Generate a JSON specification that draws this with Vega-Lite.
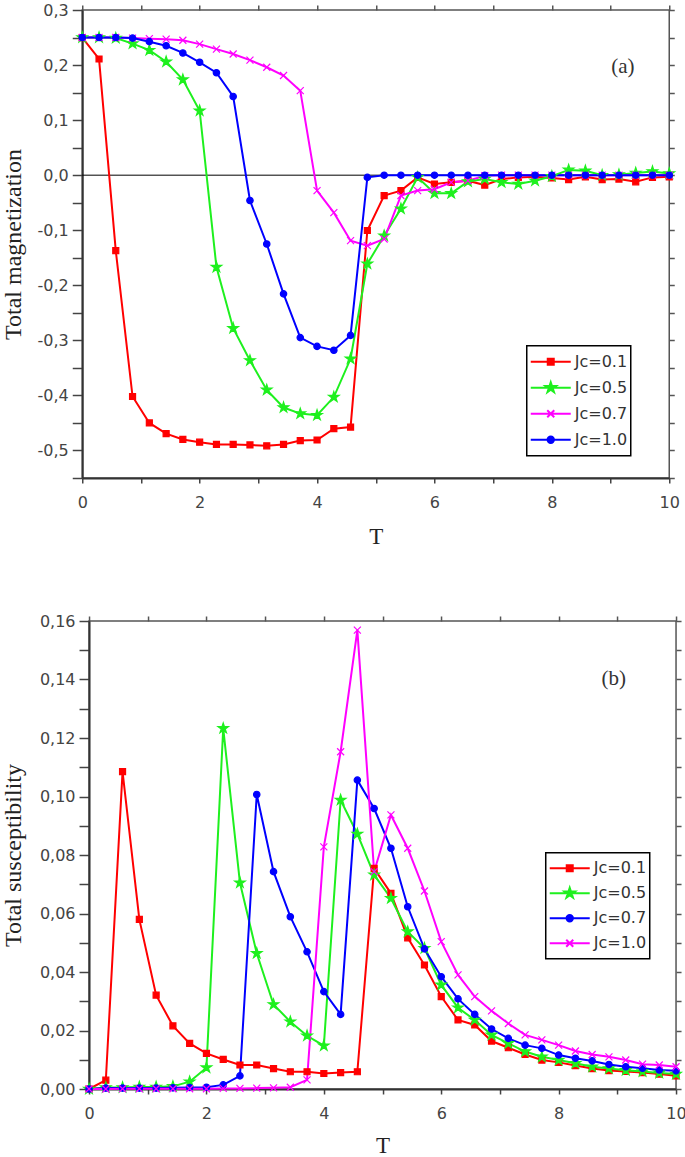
{
  "$schema": "https://vega.github.io/schema/vega-lite/v6.json",
  "padding": {"left": 0, "top": 1, "right": 0, "bottom": 0},
  "background": "white",
  "spacing": 63,
  "center": true,
  "datasets": {
    "mag": [
      {"T":0,"s01":0.25,"s05":0.25,"s07":0.25,"s10":0.25},
      {"T":0.286,"s01":0.211,"s05":0.25,"s07":0.25,"s10":0.25},
      {"T":0.571,"s01":-0.137,"s05":0.249,"s07":0.25,"s10":0.25},
      {"T":0.857,"s01":-0.402,"s05":0.239,"s07":0.249,"s10":0.249},
      {"T":1.143,"s01":-0.45,"s05":0.227,"s07":0.248,"s10":0.2425},
      {"T":1.429,"s01":-0.4695,"s05":0.206,"s07":0.247,"s10":0.235},
      {"T":1.714,"s01":-0.48,"s05":0.1735,"s07":0.245,"s10":0.222},
      {"T":2.0,"s01":-0.485,"s05":0.117,"s07":0.238,"s10":0.205},
      {"T":2.286,"s01":-0.489,"s05":-0.167,"s07":0.229,"s10":0.186},
      {"T":2.571,"s01":-0.489,"s05":-0.278,"s07":0.22,"s10":0.143},
      {"T":2.857,"s01":-0.49,"s05":-0.3365,"s07":0.209,"s10":-0.046},
      {"T":3.143,"s01":-0.4915,"s05":-0.39,"s07":0.196,"s10":-0.125},
      {"T":3.429,"s01":-0.489,"s05":-0.422,"s07":0.181,"s10":-0.2155},
      {"T":3.714,"s01":-0.482,"s05":-0.433,"s07":0.1535,"s10":-0.295},
      {"T":4.0,"s01":-0.481,"s05":-0.436,"s07":-0.028,"s10":-0.311},
      {"T":4.286,"s01":-0.4605,"s05":-0.403,"s07":-0.068,"s10":-0.318},
      {"T":4.571,"s01":-0.4575,"s05":-0.3335,"s07":-0.119,"s10":-0.291},
      {"T":4.857,"s01":-0.1005,"s05":-0.161,"s07":-0.128,"s10":-0.004},
      {"T":5.143,"s01":-0.037,"s05":-0.11,"s07":-0.116,"s10":0.0},
      {"T":5.429,"s01":-0.028,"s05":-0.061,"s07":-0.037,"s10":0.0},
      {"T":5.714,"s01":-0.004,"s05":-0.004,"s07":-0.028,"s10":0.0},
      {"T":6.0,"s01":-0.016,"s05":-0.033,"s07":-0.0256,"s10":0.0},
      {"T":6.286,"s01":-0.013,"s05":-0.033,"s07":-0.013,"s10":0.0},
      {"T":6.571,"s01":-0.01,"s05":-0.0116,"s07":-0.01,"s10":0.0},
      {"T":6.857,"s01":-0.018,"s05":-0.007,"s07":-0.001,"s10":0.0},
      {"T":7.143,"s01":-0.007,"s05":-0.013,"s07":0.0,"s10":0.0},
      {"T":7.429,"s01":-0.004,"s05":-0.016,"s07":0.0,"s10":0.0},
      {"T":7.714,"s01":-0.003,"s05":-0.01,"s07":0.0,"s10":0.0},
      {"T":8.0,"s01":-0.005,"s05":-0.002,"s07":0.0,"s10":0.0},
      {"T":8.286,"s01":-0.008,"s05":0.0096,"s07":0.0,"s10":0.0},
      {"T":8.571,"s01":-0.003,"s05":0.008,"s07":0.0,"s10":0.0},
      {"T":8.857,"s01":-0.008,"s05":0.0,"s07":0.0,"s10":0.0},
      {"T":9.143,"s01":-0.007,"s05":0.001,"s07":0.0,"s10":0.0},
      {"T":9.429,"s01":-0.012,"s05":0.004,"s07":0.0,"s10":0.0},
      {"T":9.714,"s01":-0.004,"s05":0.0066,"s07":0.0,"s10":0.0},
      {"T":10.0,"s01":-0.003,"s05":0.003,"s07":0.0,"s10":0.0}
    ],
    "sus": [
      {"T":0,"s01":0.0,"s05":0.0,"s07":0.0,"s10":0.0},
      {"T":0.286,"s01":0.003,"s05":0.0005,"s07":0.0003,"s10":0.0},
      {"T":0.571,"s01":0.1085,"s05":0.0005,"s07":0.0003,"s10":0.0001},
      {"T":0.857,"s01":0.058,"s05":0.0007,"s07":0.0003,"s10":0.0001},
      {"T":1.143,"s01":0.0321,"s05":0.0007,"s07":0.0003,"s10":0.0001},
      {"T":1.429,"s01":0.0216,"s05":0.0009,"s07":0.0004,"s10":0.0001},
      {"T":1.714,"s01":0.0156,"s05":0.0025,"s07":0.0005,"s10":0.0001},
      {"T":2.0,"s01":0.0122,"s05":0.0073,"s07":0.0006,"s10":0.0001},
      {"T":2.286,"s01":0.0101,"s05":0.1233,"s07":0.0014,"s10":0.0002},
      {"T":2.571,"s01":0.0082,"s05":0.0705,"s07":0.0045,"s10":0.0002},
      {"T":2.857,"s01":0.0082,"s05":0.0464,"s07":0.1007,"s10":0.0003},
      {"T":3.143,"s01":0.007,"s05":0.0289,"s07":0.0743,"s10":0.0004},
      {"T":3.429,"s01":0.0059,"s05":0.023,"s07":0.0589,"s10":0.0006},
      {"T":3.714,"s01":0.0059,"s05":0.0182,"s07":0.0469,"s10":0.0031},
      {"T":4.0,"s01":0.0053,"s05":0.0148,"s07":0.0333,"s10":0.0828},
      {"T":4.286,"s01":0.0056,"s05":0.0988,"s07":0.0255,"s10":0.1153},
      {"T":4.571,"s01":0.0059,"s05":0.0872,"s07":0.1056,"s10":0.1569},
      {"T":4.857,"s01":0.0754,"s05":0.0732,"s07":0.0959,"s10":0.0743},
      {"T":5.143,"s01":0.0669,"s05":0.0652,"s07":0.0823,"s10":0.0937},
      {"T":5.429,"s01":0.0517,"s05":0.0538,"s07":0.0623,"s10":0.0823},
      {"T":5.714,"s01":0.0424,"s05":0.0481,"s07":0.0479,"s10":0.0677},
      {"T":6.0,"s01":0.0316,"s05":0.0356,"s07":0.0384,"s10":0.0504},
      {"T":6.286,"s01":0.0236,"s05":0.0278,"s07":0.0308,"s10":0.039},
      {"T":6.571,"s01":0.0219,"s05":0.0236,"s07":0.0255,"s10":0.0316},
      {"T":6.857,"s01":0.0164,"s05":0.0185,"s07":0.0205,"s10":0.0267},
      {"T":7.143,"s01":0.0141,"s05":0.0156,"s07":0.0173,"s10":0.0224},
      {"T":7.429,"s01":0.0118,"s05":0.0128,"s07":0.015,"s10":0.0185},
      {"T":7.714,"s01":0.0099,"s05":0.011,"s07":0.0139,"s10":0.0168},
      {"T":8.0,"s01":0.0091,"s05":0.0099,"s07":0.0116,"s10":0.015},
      {"T":8.286,"s01":0.008,"s05":0.0088,"s07":0.0105,"s10":0.013},
      {"T":8.571,"s01":0.007,"s05":0.0076,"s07":0.0096,"s10":0.0118},
      {"T":8.857,"s01":0.0063,"s05":0.007,"s07":0.0084,"s10":0.011},
      {"T":9.143,"s01":0.006,"s05":0.0064,"s07":0.0076,"s10":0.0099},
      {"T":9.429,"s01":0.0056,"s05":0.006,"s07":0.0071,"s10":0.0085},
      {"T":9.714,"s01":0.0051,"s05":0.0055,"s07":0.0065,"s10":0.0082},
      {"T":10.0,"s01":0.0045,"s05":0.0051,"s07":0.0062,"s10":0.0076}
    ]
  },
  "vconcat": [
    {
      "width": 587,
      "height": 468,
      "layer": [
        {
          "data": {"values": [{}]},
          "mark": {"type": "rule", "color": "#000000", "strokeWidth": 1},
          "encoding": {"y": {"datum": 0, "type": "quantitative", "scale": {"domain": [-0.55, 0.3], "nice": false, "zero": false}, "axis": null}}
        },
        {
          "data": {"name": "mag"},
          "transform": [{"fold": ["s01", "s05", "s07", "s10"], "as": ["s", "v"]}],
          "mark": {"type": "line", "strokeWidth": 2},
          "encoding": {
            "x": {"field": "T", "type": "quantitative", "scale": {"domain": [0, 10], "nice": false},
              "axis": {"orient": "bottom", "values": [0,1,2,3,4,5,6,7,8,9,10], "title": "T", "tickSize": 5, "labelPadding": 11, "titlePadding": 15,
                "labelExpr": "datum.value % 2 == 0 ? datum.label : ''",
                "encode": {"ticks": {"update": {"y2": {"signal": "datum.value % 2 == 0 ? 5 : 3"}}}}}},
            "y": {"field": "v", "type": "quantitative", "scale": {"domain": [-0.55, 0.3], "nice": false, "zero": false},
              "axis": {"orient": "left", "values": [-0.55,-0.5,-0.45,-0.4,-0.35,-0.3,-0.25,-0.2,-0.15,-0.1,-0.05,0,0.05,0.1,0.15,0.2,0.25,0.3],
                "title": "Total magnetization", "titleFontSize": 24, "tickSize": 10, "labelPadding": 4, "titlePadding": 11.2,
                "labelExpr": "abs(datum.value*10 - round(datum.value*10)) < 0.000001 ? replace(replace(format(datum.value, '.1f'), '.', ','), '\u2212', '-') : ''",
                "encode": {"ticks": {"update": {"x2": {"signal": "abs(datum.value*10 - round(datum.value*10)) < 0.000001 ? -10 : -4"}}}}}},
            "color": {"field": "s", "type": "nominal", "scale": {"domain": ["s01", "s05", "s07", "s10"], "range": ["#ff0000", "#1ef01e", "#ff00ff", "#0000ff"]}, "legend": null}
          }
        },
        {
          "data": {"name": "mag"},
          "transform": [{"fold": ["s01", "s05", "s07", "s10"], "as": ["s", "v"]}],
          "mark": {"type": "point", "filled": true, "size": 100, "strokeWidth": 1.2, "opacity": 1},
          "encoding": {
            "x": {"field": "T", "type": "quantitative", "scale": {"domain": [0, 10], "nice": false},
              "axis": {"orient": "top", "values": [0,1,2,3,4,5,6,7,8,9,10], "title": null, "labels": false, "domain": false, "tickColor": "#555",
                "encode": {"ticks": {"update": {"y2": {"signal": "datum.value % 2 == 0 ? 9 : 3"}}}}}},
            "y": {"field": "v", "type": "quantitative", "scale": {"domain": [-0.55, 0.3], "nice": false, "zero": false},
              "axis": {"orient": "right", "values": [-0.55,-0.5,-0.45,-0.4,-0.35,-0.3,-0.25,-0.2,-0.15,-0.1,-0.05,0,0.05,0.1,0.15,0.2,0.25,0.3], "title": " ", "titleFontSize": 18, "titlePadding": 0, "labels": false, "domain": false, "tickColor": "#555",
                "encode": {"ticks": {"update": {"x2": {"signal": "abs(datum.value*10 - round(datum.value*10)) < 0.000001 ? -10 : -5"}}}}}},
            "fill": {"field": "s", "type": "nominal", "scale": {"domain": ["s01", "s05", "s07", "s10"], "range": ["#ff0000", "#1ef01e", "#ff00ff", "#0000ff"]}, "legend": null},
            "stroke": {"field": "s", "type": "nominal", "scale": {"domain": ["s01", "s05", "s07", "s10"], "range": ["#ff0000", "#1ef01e", "#ff00ff", "#0000ff"]}, "legend": null},
            "shape": {"field": "s", "type": "nominal", "scale": {"domain": ["s01", "s05", "s07", "s10"], "range": [
              "M-0.6,-0.6H0.6V0.6H-0.6Z",
              "M0,-1.1L0.247,-0.34L1.046,-0.34L0.399,0.13L0.647,0.89L0,0.42L-0.647,0.89L-0.399,0.13L-1.046,-0.34L-0.247,-0.34Z",
              "M-0.7,-0.7L0.7,0.7M-0.7,0.7L0.7,-0.7",
              "M0.64,0A0.64,0.64 0 1,1 -0.64,0A0.64,0.64 0 1,1 0.64,0Z"]}, "legend": null}
          }
        },
        {
          "data": {"values": [{"T": 9.21, "v": 0.197, "t": "(a)"}]},
          "mark": {"type": "text", "font": "Liberation Serif", "fontSize": 21, "color": "#333333", "align": "center", "baseline": "middle"},
          "encoding": {
            "x": {"field": "T", "type": "quantitative", "axis": null},
            "y": {"field": "v", "type": "quantitative", "axis": null},
            "text": {"field": "t"}
          }
        },
        {
          "data": {"values": []},
          "mark": {"type": "point", "filled": true, "strokeWidth": 2, "opacity": 1},
          "encoding": {
            "fill": {"field": "s", "type": "nominal", "scale": {"domain": ["s01", "s05", "s07", "s10"], "range": ["#ff0000", "#1ef01e", "#ff00ff", "#0000ff"]},
              "legend": {"orient": "none", "legendX": 444.5, "legendY": 335.7, "title": null, "symbolSize": 1600, "clipHeight": 26, "padding": 3, "rowPadding": 0, "strokeColor": "#000000", "labelFont": "DejaVu Sans", "labelFontSize": 16, "labelColor": "#333333", "labelOffset": 3, "symbolStrokeWidth": 2, "symbolOpacity": 1,
                "labelExpr": "datum.value == 's01' ? 'J\u1d04=0.1' : datum.value == 's05' ? 'J\u1d04=0.5' : datum.value == 's07' ? 'J\u1d04=0.7' : 'J\u1d04=1.0'",
                "encode": {"legend": {"update": {"strokeWidth": {"value": 1.5}}}}}},
            "stroke": {"field": "s", "type": "nominal", "scale": {"domain": ["s01", "s05", "s07", "s10"], "range": ["#ff0000", "#1ef01e", "#ff00ff", "#0000ff"]},
              "legend": {"orient": "none", "legendX": 444.5, "legendY": 335.7, "title": null, "symbolSize": 1600, "clipHeight": 26, "padding": 3, "rowPadding": 0, "strokeColor": "#000000", "labelFont": "DejaVu Sans", "labelFontSize": 16, "labelColor": "#333333", "labelOffset": 3, "symbolStrokeWidth": 2, "symbolOpacity": 1,
                "labelExpr": "datum.value == 's01' ? 'J\u1d04=0.1' : datum.value == 's05' ? 'J\u1d04=0.5' : datum.value == 's07' ? 'J\u1d04=0.7' : 'J\u1d04=1.0'",
                "encode": {"legend": {"update": {"strokeWidth": {"value": 1.5}}}}}},
            "shape": {"field": "s", "type": "nominal", "scale": {"domain": ["s01", "s05", "s07", "s10"], "range": [
              "M-1,0H1M-0.15,-0.15H0.15V0.15H-0.15Z",
              "M-1,0H1M0,-0.275L0.062,-0.085L0.2615,-0.085L0.1,0.0325L0.162,0.2225L0,0.105L-0.162,0.2225L-0.1,0.0325L-0.2615,-0.085L-0.062,-0.085Z",
              "M-1,0H1M-0.175,-0.175L0.175,0.175M-0.175,0.175L0.175,-0.175",
              "M-1,0H1M0.16,0A0.16,0.16 0 1,1 -0.16,0A0.16,0.16 0 1,1 0.16,0Z"]},
              "legend": {"orient": "none", "legendX": 444.5, "legendY": 335.7, "title": null, "symbolSize": 1600, "clipHeight": 26, "padding": 3, "rowPadding": 0, "strokeColor": "#000000", "labelFont": "DejaVu Sans", "labelFontSize": 16, "labelColor": "#333333", "labelOffset": 3, "symbolStrokeWidth": 2, "symbolOpacity": 1,
                "labelExpr": "datum.value == 's01' ? 'J\u1d04=0.1' : datum.value == 's05' ? 'J\u1d04=0.5' : datum.value == 's07' ? 'J\u1d04=0.7' : 'J\u1d04=1.0'",
                "encode": {"legend": {"update": {"strokeWidth": {"value": 1.5}}}}}}
          }
        }
      ],
      "resolve": {"scale": {"fill": "independent", "stroke": "independent", "shape": "independent"}, "axis": {"x": "independent", "y": "independent"}}
    },
    {
      "width": 587,
      "height": 468,
      "layer": [
        {
          "data": {"name": "sus"},
          "transform": [{"fold": ["s01", "s05", "s07", "s10"], "as": ["s", "v"]}],
          "mark": {"type": "line", "strokeWidth": 2},
          "encoding": {
            "x": {"field": "T", "type": "quantitative", "scale": {"domain": [0, 10], "nice": false},
              "axis": {"orient": "bottom", "values": [0,1,2,3,4,5,6,7,8,9,10], "title": "T", "tickSize": 5, "labelPadding": 11, "titlePadding": 13,
                "labelExpr": "datum.value % 2 == 0 ? datum.label : ''",
                "encode": {"ticks": {"update": {"y2": {"signal": "datum.value % 2 == 0 ? 5 : 3"}}}}}},
            "y": {"field": "v", "type": "quantitative", "scale": {"domain": [0, 0.16], "nice": false},
              "axis": {"orient": "left", "values": [0,0.01,0.02,0.03,0.04,0.05,0.06,0.07,0.08,0.09,0.1,0.11,0.12,0.13,0.14,0.15,0.16],
                "title": "Total susceptibility", "titleFontSize": 24, "tickSize": 10, "labelPadding": 4, "titlePadding": 13.7,
                "labelExpr": "abs(datum.value*50 - round(datum.value*50)) < 0.000001 ? replace(format(datum.value, '.2f'), '.', ',') : ''",
                "encode": {"ticks": {"update": {"x2": {"signal": "abs(datum.value*50 - round(datum.value*50)) < 0.000001 ? -10 : -4"}}}}}},
            "color": {"field": "s", "type": "nominal", "scale": {"domain": ["s01", "s05", "s07", "s10"], "range": ["#ff0000", "#1ef01e", "#0000ff", "#ff00ff"]}, "legend": null}
          }
        },
        {
          "data": {"name": "sus"},
          "transform": [{"fold": ["s01", "s05", "s07", "s10"], "as": ["s", "v"]}],
          "mark": {"type": "point", "filled": true, "size": 100, "strokeWidth": 1.2, "opacity": 1},
          "encoding": {
            "x": {"field": "T", "type": "quantitative", "scale": {"domain": [0, 10], "nice": false},
              "axis": {"orient": "top", "values": [0,1,2,3,4,5,6,7,8,9,10], "title": null, "labels": false, "domain": false, "tickColor": "#555",
                "encode": {"ticks": {"update": {"y2": {"signal": "datum.value % 2 == 0 ? 9 : 3"}}}}}},
            "y": {"field": "v", "type": "quantitative", "scale": {"domain": [0, 0.16], "nice": false},
              "axis": {"orient": "right", "values": [0,0.01,0.02,0.03,0.04,0.05,0.06,0.07,0.08,0.09,0.1,0.11,0.12,0.13,0.14,0.15,0.16], "title": null, "labels": false, "domain": false, "tickColor": "#555",
                "encode": {"ticks": {"update": {"x2": {"signal": "abs(datum.value*50 - round(datum.value*50)) < 0.000001 ? -10 : -5"}}}}}},
            "fill": {"field": "s", "type": "nominal", "scale": {"domain": ["s01", "s05", "s07", "s10"], "range": ["#ff0000", "#1ef01e", "#0000ff", "#ff00ff"]}, "legend": null},
            "stroke": {"field": "s", "type": "nominal", "scale": {"domain": ["s01", "s05", "s07", "s10"], "range": ["#ff0000", "#1ef01e", "#0000ff", "#ff00ff"]}, "legend": null},
            "shape": {"field": "s", "type": "nominal", "scale": {"domain": ["s01", "s05", "s07", "s10"], "range": [
              "M-0.6,-0.6H0.6V0.6H-0.6Z",
              "M0,-1.1L0.247,-0.34L1.046,-0.34L0.399,0.13L0.647,0.89L0,0.42L-0.647,0.89L-0.399,0.13L-1.046,-0.34L-0.247,-0.34Z",
              "M0.64,0A0.64,0.64 0 1,1 -0.64,0A0.64,0.64 0 1,1 0.64,0Z",
              "M-0.7,-0.7L0.7,0.7M-0.7,0.7L0.7,-0.7"]}, "legend": null}
          }
        },
        {
          "data": {"values": [{"T": 8.94, "v": 0.1403, "t": "(b)"}]},
          "mark": {"type": "text", "font": "Liberation Serif", "fontSize": 21, "color": "#333333", "align": "center", "baseline": "middle"},
          "encoding": {
            "x": {"field": "T", "type": "quantitative", "axis": null},
            "y": {"field": "v", "type": "quantitative", "axis": null},
            "text": {"field": "t"}
          }
        },
        {
          "data": {"values": []},
          "mark": {"type": "point", "filled": true, "strokeWidth": 2, "opacity": 1},
          "encoding": {
            "fill": {"field": "s", "type": "nominal", "scale": {"domain": ["s01", "s05", "s07", "s10"], "range": ["#ff0000", "#1ef01e", "#0000ff", "#ff00ff"]},
              "legend": {"orient": "none", "legendX": 456.7, "legendY": 231.7, "title": null, "symbolSize": 1600, "clipHeight": 25, "padding": 3, "rowPadding": 0, "strokeColor": "#000000", "labelFont": "DejaVu Sans", "labelFontSize": 16, "labelColor": "#333333", "labelOffset": 3, "symbolStrokeWidth": 2, "symbolOpacity": 1,
                "labelExpr": "datum.value == 's01' ? 'J\u1d04=0.1' : datum.value == 's05' ? 'J\u1d04=0.5' : datum.value == 's07' ? 'J\u1d04=0.7' : 'J\u1d04=1.0'",
                "encode": {"legend": {"update": {"strokeWidth": {"value": 1.5}}}}}},
            "stroke": {"field": "s", "type": "nominal", "scale": {"domain": ["s01", "s05", "s07", "s10"], "range": ["#ff0000", "#1ef01e", "#0000ff", "#ff00ff"]},
              "legend": {"orient": "none", "legendX": 456.7, "legendY": 231.7, "title": null, "symbolSize": 1600, "clipHeight": 25, "padding": 3, "rowPadding": 0, "strokeColor": "#000000", "labelFont": "DejaVu Sans", "labelFontSize": 16, "labelColor": "#333333", "labelOffset": 3, "symbolStrokeWidth": 2, "symbolOpacity": 1,
                "labelExpr": "datum.value == 's01' ? 'J\u1d04=0.1' : datum.value == 's05' ? 'J\u1d04=0.5' : datum.value == 's07' ? 'J\u1d04=0.7' : 'J\u1d04=1.0'",
                "encode": {"legend": {"update": {"strokeWidth": {"value": 1.5}}}}}},
            "shape": {"field": "s", "type": "nominal", "scale": {"domain": ["s01", "s05", "s07", "s10"], "range": [
              "M-1,0H1M-0.15,-0.15H0.15V0.15H-0.15Z",
              "M-1,0H1M0,-0.275L0.062,-0.085L0.2615,-0.085L0.1,0.0325L0.162,0.2225L0,0.105L-0.162,0.2225L-0.1,0.0325L-0.2615,-0.085L-0.062,-0.085Z",
              "M-1,0H1M0.16,0A0.16,0.16 0 1,1 -0.16,0A0.16,0.16 0 1,1 0.16,0Z",
              "M-1,0H1M-0.175,-0.175L0.175,0.175M-0.175,0.175L0.175,-0.175"]},
              "legend": {"orient": "none", "legendX": 456.7, "legendY": 231.7, "title": null, "symbolSize": 1600, "clipHeight": 25, "padding": 3, "rowPadding": 0, "strokeColor": "#000000", "labelFont": "DejaVu Sans", "labelFontSize": 16, "labelColor": "#333333", "labelOffset": 3, "symbolStrokeWidth": 2, "symbolOpacity": 1,
                "labelExpr": "datum.value == 's01' ? 'J\u1d04=0.1' : datum.value == 's05' ? 'J\u1d04=0.5' : datum.value == 's07' ? 'J\u1d04=0.7' : 'J\u1d04=1.0'",
                "encode": {"legend": {"update": {"strokeWidth": {"value": 1.5}}}}}}
          }
        }
      ],
      "resolve": {"scale": {"fill": "independent", "stroke": "independent", "shape": "independent"}, "axis": {"x": "independent", "y": "independent"}}
    }
  ],
  "resolve": {"scale": {"color": "independent", "fill": "independent", "stroke": "independent", "shape": "independent"}},
  "config": {
    "view": {"stroke": "#555555", "strokeWidth": 1.5},
    "axis": {
      "grid": false,
      "labelFont": "DejaVu Sans",
      "labelFontSize": 16,
      "labelColor": "#444444",
      "titleFont": "Liberation Serif",
      "titleFontSize": 23,
      "titleFontWeight": "normal",
      "titleColor": "#222222",
      "tickColor": "#444444",
      "tickWidth": 1.5,
      "domainColor": "#333333",
      "domainWidth": 2,
      "labelOverlap": false,
      "labelFlush": false
    }
  }
}
